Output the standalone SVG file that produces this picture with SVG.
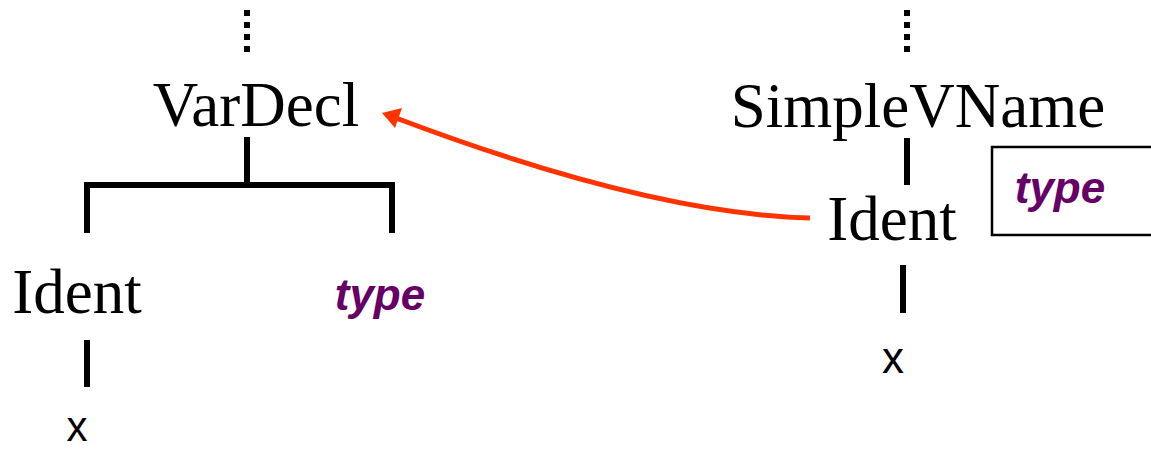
<svg xmlns="http://www.w3.org/2000/svg" width="1151" height="450" viewBox="0 0 1151 450">
<style>
.node{font-family:"Liberation Serif","Times New Roman",serif;font-size:63px;fill:#000;text-anchor:middle}
.leaf{font-family:"Liberation Sans",Arial,sans-serif;font-size:44px;fill:#000;text-anchor:middle}
.type{font-family:"Liberation Sans",Arial,sans-serif;font-size:44px;font-weight:bold;font-style:italic;fill:#660066;text-anchor:middle}
.edge{stroke:#000;stroke-width:6;fill:none}
.dots{stroke:#000;stroke-width:6;fill:none;stroke-dasharray:6 6}
.arrow{stroke:#FF3300;stroke-width:5;fill:none}
.head{fill:#FF3300}
</style>
<g id="connectors">
<line class="dots" x1="247" y1="10" x2="247" y2="52"/>
<line class="dots" x1="907" y1="10" x2="907" y2="52"/>
<line class="edge" x1="247" y1="137" x2="247" y2="185"/>
<polyline class="edge" points="87,233 87,185 392,185 392,233"/>
<line class="edge" x1="87" y1="340" x2="87" y2="387"/>
<line class="edge" x1="907" y1="138" x2="907" y2="185"/>
<line class="edge" x1="903" y1="265" x2="903" y2="313"/>
<path class="arrow" d="M810,218 Q650,214 396,118"/>
<path class="head" d="M382,113 L402,108 L395,128 Z"/>
</g>
<g id="vardecl"><text class="node" x="256" y="126">VarDecl</text></g>
<g id="ident-left"><text class="node" x="77" y="313">Ident</text></g>
<g id="x-left"><text class="leaf" x="77" y="441" style="font-size:42px">x</text></g>
<g id="type-left"><text class="type" x="380" y="310">type</text></g>
<g id="simplevname"><text class="node" x="918" y="127">SimpleVName</text></g>
<g id="ident-right"><text class="node" x="892" y="240">Ident</text></g>
<g id="x-right"><text class="leaf" x="893" y="373">x</text></g>
<g id="type-box">
<rect x="992" y="147" width="170" height="88" fill="none" stroke="#000" stroke-width="2.5"/>
<text class="type" x="1060" y="203">type</text>
</g>
</svg>
